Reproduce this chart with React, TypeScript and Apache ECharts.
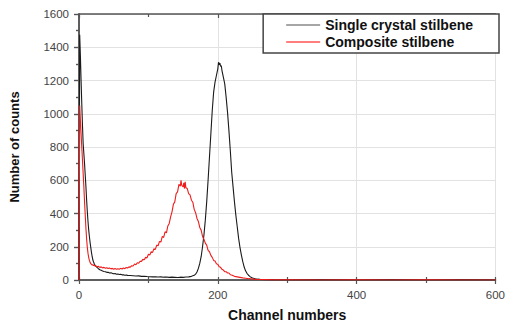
import React, { useEffect, useRef } from "react";
import * as echarts from "echarts";

const singleChannels = [
  0, 1, 2, 3, 4, 5, 6, 7, 8, 9, 10, 11, 12, 13, 14, 15, 16, 17, 18, 19, 20, 21, 22, 23, 24, 26, 28, 30, 32, 34, 36, 38, 40, 42, 44, 46, 48, 50, 52, 54, 56, 58, 60, 62, 64, 66, 68, 70, 74, 78, 82, 86, 90, 94, 98, 102, 106, 110, 114, 118, 122, 126, 130, 134, 138, 142, 146, 150, 154, 158, 162, 164, 166, 168, 170, 172, 174, 176, 178, 180, 182, 184, 186, 188, 190, 192, 194, 196, 198, 200, 201, 202, 203, 204, 205, 206, 208, 210, 212, 214, 216, 218, 220, 222, 224, 226, 228, 230, 232, 234, 236, 238, 240, 242, 244, 246, 248, 250, 254, 258, 262, 270, 280, 300, 350, 400, 450, 500, 550, 600,
];
const singleCounts = [
  0, 1475, 1350, 1200, 1060, 930, 820, 760, 700, 630, 560, 480, 410, 350, 300, 260, 225, 195, 165, 140, 120, 108, 98, 90, 84, 76, 68, 62, 58, 54, 51, 50, 46, 47, 42, 43, 40, 38, 39, 35, 36, 33, 34, 31, 32, 29, 30, 28, 27, 26, 24, 25, 22, 23, 21, 20, 19, 20, 18, 19, 17, 18, 16, 17, 16, 15, 17, 16, 18, 19, 22, 25, 28, 35, 48, 70, 100, 140, 200, 270, 360, 470, 600, 740, 880, 1020, 1130, 1190, 1230, 1270, 1310, 1295, 1305, 1285, 1290, 1260, 1220, 1180, 1100, 1010, 900, 780, 650, 560, 470, 390, 320, 250, 195, 150, 110, 78, 55, 40, 30, 22, 16, 12, 8, 5, 3, 2, 1, 0, 1, 0, 1, 0, 1, 0,
];

const compositeChannels = [
  0, 1, 2, 3, 4, 5, 6, 7, 8, 9, 10, 11, 12, 13, 14, 15, 16, 17, 18, 19, 20, 21, 22, 23, 24, 26, 28, 30, 32, 34, 36, 38, 40, 42, 44, 46, 48, 50, 52, 54, 56, 58, 60, 62, 64, 66, 68, 70, 72, 74, 76, 78, 80, 82, 84, 86, 88, 90, 92, 94, 96, 98, 100, 102, 104, 106, 108, 110, 112, 114, 116, 118, 120, 122, 124, 126, 128, 130, 132, 134, 136, 138, 140, 142, 144, 146, 147, 148, 150, 151, 152, 153, 154, 156, 158, 160, 162, 164, 166, 168, 170, 172, 174, 176, 178, 180, 182, 184, 186, 188, 190, 192, 194, 196, 198, 200, 202, 204, 206, 208, 210, 212, 214, 216, 218, 220, 224, 228, 232, 236, 240, 245, 250, 255, 260, 270, 280, 300, 350, 400, 450, 500, 550, 600,
];
const compositeCounts = [
  0, 1050, 960, 880, 800, 720, 640, 560, 470, 390, 310, 245, 195, 160, 135, 118, 106, 98, 94, 90, 92, 87, 89, 84, 86, 80, 82, 76, 79, 73, 76, 71, 74, 69, 72, 67, 70, 65, 69, 64, 68, 65, 70, 66, 72, 68, 75, 72, 79, 77, 86, 84, 96, 92, 104, 101, 113, 112, 124, 122, 136, 133, 155, 150, 170, 166, 188, 184, 210, 206, 232, 228, 262, 256, 290, 284, 325, 340, 380, 410, 455, 470, 520, 530, 575, 565, 600, 570, 560, 585, 550, 590, 555, 550, 520, 512, 480, 468, 425, 405, 370, 352, 316, 300, 262, 245, 222, 210, 178, 170, 148, 136, 118, 114, 98, 94, 80, 76, 64, 60, 50, 50, 42, 42, 32, 30, 22, 19, 16, 13, 11, 8, 6, 4, 3, 2, 1, 1, 0, 1, 0, 1, 0, 0,
];

const seriesNames = ["Single crystal stilbene", "Composite stilbene"];
const xTicks = [0, 200, 400, 600];
const yTicks = [0, 200, 400, 600, 800, 1000, 1200, 1400, 1600];

const FONT = "'Liberation Sans', Arial, sans-serif";
const AXIS_COLOR = "#555";

export default function App() {
  const ref = useRef<HTMLDivElement>(null);
  useEffect(() => {
    if (!ref.current) return;
    const chart = echarts.init(ref.current, undefined, { renderer: "svg" });
    const pairs = (xs: number[], ys: number[]) => xs.map((x, i) => [x, ys[i]]);
    const xMin = xTicks[0];
    const xMax = xTicks[xTicks.length - 1];
    const xInt = xTicks[1] - xTicks[0];
    const yMin = yTicks[0];
    const yMax = yTicks[yTicks.length - 1];
    const yInt = yTicks[1] - yTicks[0];
    const axisLine = { show: true, lineStyle: { color: AXIS_COLOR, width: 1.5 } };
    const plain = (v: number) => String(v);
    chart.setOption({
      animation: false,
      backgroundColor: "#fff",
      grid: { left: 79, right: 9, top: 14, bottom: 45, containLabel: false },
      legend: {
        right: 9,
        top: 14,
        orient: "vertical",
        align: "left",
        icon: "rect",
        itemWidth: 34,
        itemHeight: 1.5,
        itemGap: 3,
        padding: [4, 26, 4, 23],
        borderColor: "#444",
        borderWidth: 1.5,
        backgroundColor: "#fff",
        textStyle: { fontFamily: FONT, fontWeight: "bold", fontSize: 14, color: "#111", lineHeight: 14 },
        data: [
          { name: seriesNames[0], icon: "rect", itemStyle: { color: "#888" } },
          { name: seriesNames[1], icon: "rect", itemStyle: { color: "#f55" } },
        ],
      },
      xAxis: [
        {
          type: "value",
          position: "bottom",
          min: xMin,
          max: xMax,
          interval: xInt,
          name: "Channel numbers",
          nameLocation: "middle",
          nameGap: 28,
          nameTextStyle: { fontFamily: FONT, fontWeight: "bold", fontSize: 14, color: "#111" },
          axisLine,
          axisTick: { show: true, inside: false, length: 4, lineStyle: { color: AXIS_COLOR, width: 1.2 } },
          minorTick: { show: true, splitNumber: 2, length: 3, lineStyle: { color: AXIS_COLOR, width: 1.2 } },
          axisLabel: { fontFamily: FONT, fontSize: 11.5, color: "#444", margin: 9, formatter: plain },
          splitLine: { show: true, lineStyle: { color: "#e2e2e2", width: 1 } },
        },
        {
          type: "value",
          position: "bottom",
          min: xMin,
          max: xMax,
          interval: xInt,
          axisLine,
          axisTick: { show: true, inside: true, length: 3, lineStyle: { color: AXIS_COLOR, width: 1.2 } },
          minorTick: { show: true, splitNumber: 2, length: 3, lineStyle: { color: AXIS_COLOR, width: 1.2 } },
          axisLabel: { show: false },
          splitLine: { show: false },
        },
        {
          type: "value",
          position: "top",
          min: xMin,
          max: xMax,
          interval: xInt,
          axisLine,
          axisTick: { show: true, inside: true, length: 4, lineStyle: { color: AXIS_COLOR, width: 1.2 } },
          minorTick: { show: true, splitNumber: 2, length: 3, lineStyle: { color: AXIS_COLOR, width: 1.2 } },
          axisLabel: { show: false },
          splitLine: { show: false },
        },
      ],
      yAxis: [
        {
          type: "value",
          position: "left",
          min: yMin,
          max: yMax,
          interval: yInt,
          name: "Number of counts",
          nameLocation: "middle",
          nameGap: 58,
          nameTextStyle: { fontFamily: FONT, fontWeight: "bold", fontSize: 13, color: "#111" },
          axisLine,
          axisTick: { show: true, inside: false, length: 5, lineStyle: { color: AXIS_COLOR, width: 1.2 } },
          minorTick: { show: true, splitNumber: 2, length: 3, lineStyle: { color: AXIS_COLOR, width: 1.2 } },
          axisLabel: { fontFamily: FONT, fontSize: 11.5, color: "#444", margin: 10, formatter: plain },
          splitLine: { show: true, lineStyle: { color: "#e2e2e2", width: 1 } },
        },
        {
          type: "value",
          position: "right",
          min: yMin,
          max: yMax,
          interval: yInt,
          axisLine,
          axisTick: { show: true, inside: true, length: 5, lineStyle: { color: AXIS_COLOR, width: 1.2 } },
          minorTick: { show: true, splitNumber: 2, length: 3, lineStyle: { color: AXIS_COLOR, width: 1.2 } },
          axisLabel: { show: false },
          splitLine: { show: false },
        },
      ],
      series: [
        {
          name: seriesNames[0],
          type: "line",
          xAxisIndex: 0,
          yAxisIndex: 0,
          data: pairs(singleChannels, singleCounts),
          symbol: "none",
          lineStyle: { color: "#1a1a1a", width: 1.1 },
          itemStyle: { color: "#1a1a1a" },
          z: 2,
        },
        {
          name: seriesNames[1],
          type: "line",
          xAxisIndex: 0,
          yAxisIndex: 0,
          data: pairs(compositeChannels, compositeCounts),
          symbol: "none",
          lineStyle: { color: "#ee1c1c", width: 1.1 },
          itemStyle: { color: "#ee1c1c" },
          z: 3,
        },
      ],
    });
    return () => chart.dispose();
  }, []);
  return <div ref={ref} style={{ width: 508, height: 327, position: "absolute", left: 0, top: 0 }} />;
}
